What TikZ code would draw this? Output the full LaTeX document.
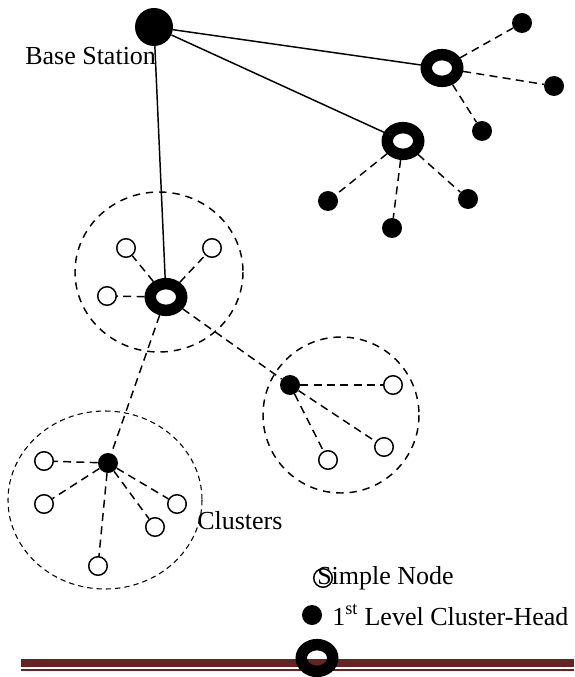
\documentclass[tikz,border=0pt]{standalone}
\usepackage{fontspec}
\setmainfont{Liberation Serif}
\usetikzlibrary{shapes.geometric}
\definecolor{rulered}{HTML}{632423}

\tikzset{
  sink/.style={circle, fill=black, minimum size=28.5pt, inner sep=0pt},
  headtwo/.style={ellipse, draw=black, line width=8.6pt, minimum width=23.6pt, minimum height=20pt, inner sep=0pt},
  headone/.style={circle, fill=black, minimum size=15pt, inner sep=0pt},
  simple/.style={circle, draw=black, line width=1.1pt, fill=white, minimum size=13.9pt, inner sep=0pt},
  link/.style={line width=1.1pt},
  dlink/.style={line width=1.1pt, dash pattern=on 6pt off 4pt},
  clus/.style={line width=1.1pt, dash pattern=on 5.5pt off 4.5pt},
  fclus/.style={line width=0.8pt, dash pattern=on 4pt off 3pt},
  lab/.style={font=\fontsize{19.5}{22}\selectfont, inner sep=0pt}
}

\begin{document}
\begin{tikzpicture}[x=0.75pt, y=-0.75pt]
			%%%%% START %%%%%
			\useasboundingbox (0,0) rectangle (574,677);
			
			% cluster borders
			\draw[clus] (159,272) ellipse [x radius=84, y radius=80];
			\draw[clus] (341,415) ellipse [x radius=78, y radius=78];
			\draw[fclus] (105,500) ellipse [x radius=97, y radius=89];
			
			% base station and 2nd level heads
			\node[sink] (bs) at (154,27) {};
			\node[lab, anchor=west] (bslab) at (25,56) {Base Station};
			\node[headtwo] (ra) at (442,68) {};
			\node[headtwo] (rb) at (403,141) {};
			\node[headtwo] (rc) at (166,297) {};
			
			\node[headone] (a1) at (522,23) {};
			\node[headone] (a2) at (554,86) {};
			\node[headone] (a3) at (482,131) {};
			
			\node[headone] (b1) at (328,201) {};
			\node[headone] (b2) at (392,228) {};
			\node[headone] (b3) at (468,199) {};
			
			\node[simple] (c1) at (126,248) {};
			\node[simple] (c2) at (212,248) {};
			\node[simple] (c3) at (107,296) {};
			
			% right cluster
			\node[headone] (hd) at (290,385) {};
			\node[simple] (d1) at (393,385) {};
			\node[simple] (d2) at (384,447) {};
			\node[simple] (d3) at (328,460) {};
			
			% left cluster
			\node[headone] (he) at (108,463) {};
			\node[simple] (e1) at (44,461) {};
			\node[simple] (e2) at (44,504) {};
			\node[simple] (e3) at (177,504) {};
			\node[simple] (e4) at (155,527) {};
			\node[simple] (e5) at (98,566) {};
			\node[lab, anchor=west] (cllab) at (197,521) {Clusters};
			
			\draw[link] (bs) -- (ra);
			\draw[link] (bs) -- (rb);
			\draw[link] (bs) -- (rc);
			
			\foreach \m in {a1,a2,a3} \draw[dlink] (ra) -- (\m);
			\foreach \m in {b1,b2,b3} \draw[dlink] (rb) -- (\m);
			\foreach \m in {c1,c2,c3,hd,he} \draw[dlink] (rc) -- (\m);
			\foreach \m in {d1,d2,d3} \draw[dlink] (hd) -- (\m);
			\foreach \m in {e1,e2,e3,e4,e5} \draw[dlink] (he) -- (\m);
			
			% legend
			\fill[rulered] (21,659) rectangle (574,667);
			\fill[rulered] (21,669) rectangle (574,671);
			\node[simple] (ksimple) at (323,578) {};
			\node[lab, anchor=west] (ksimplelab) at (317,578) {Simple Node};
			\node[headone] (khead) at (312,615) {};
			\node[lab, anchor=west] (kheadlab) at (332,615) {1\textsuperscript{st} Level Cluster-Head};
			\node[headtwo] (kring) at (317,658) {};
			
			%%%%% END %%%%%
\end{tikzpicture}
\end{document}
